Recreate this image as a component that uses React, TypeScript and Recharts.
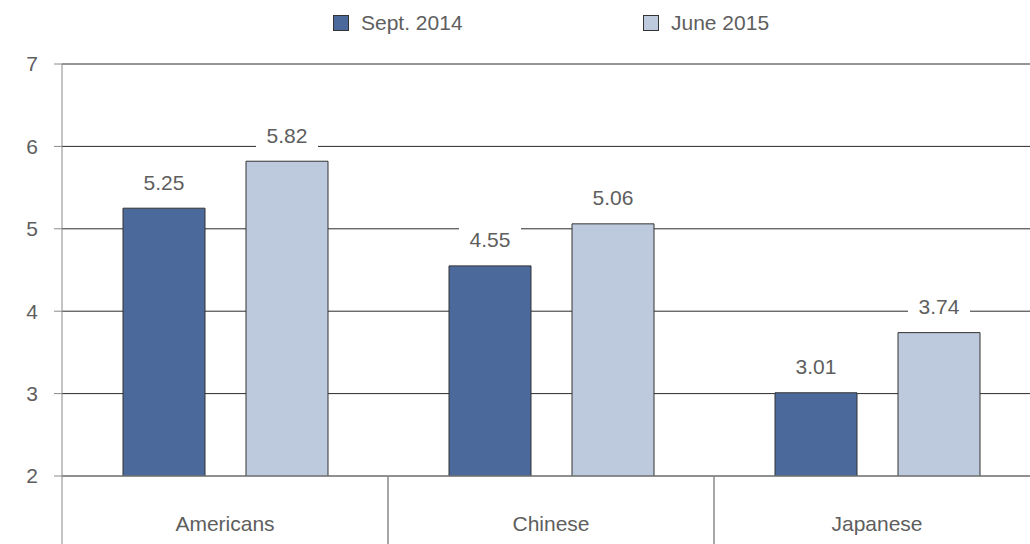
import { BarChart, Bar, XAxis, YAxis, CartesianGrid, LabelList } from "recharts";

const categories = ["Americans", "Chinese", "Japanese"];
const sept2014 = [5.25, 4.55, 3.01];
const june2015 = [5.82, 5.06, 3.74];
const seriesNames = ["Sept. 2014", "June 2015"];
const yTicks = [2, 3, 4, 5, 6, 7];

const colors = ["#4b6a9b", "#bdcadd"];
const textColor = "#5e5e5e";
const font = "'Liberation Sans', Arial, sans-serif";

const data = categories.map((name, i) => ({
  name,
  s1: sept2014[i],
  s2: june2015[i],
}));

const CHART_W = 1040;
const CHART_H = 544;
const Y_W = 62;
const BAND = (CHART_W - Y_W) / categories.length;

function ValueLabel(props: any) {
  const { x, y, width, value } = props;
  const cx = x + width / 2;
  const cy = y - 26;
  return (
    <g>
      <rect x={cx - 31} y={cy - 14} width={62} height={28} fill="#fff" />
      <text
        x={cx}
        y={cy}
        textAnchor="middle"
        dominantBaseline="central"
        fontSize={21}
        fontFamily={font}
        fill={textColor}
      >
        {Number(value).toFixed(2)}
      </text>
    </g>
  );
}

// tick y arrives shifted by the default tick size + margin (8px)
function CategoryTick(props: any) {
  const { x, y, payload } = props;
  const top = y - 8;
  return (
    <g>
      <line x1={x - BAND / 2} y1={top} x2={x - BAND / 2} y2={CHART_H} stroke="#8a8a8a" />
      <line x1={x + BAND / 2} y1={top} x2={x + BAND / 2} y2={CHART_H} stroke="#8a8a8a" />
      <text
        x={x}
        y={top + 47}
        textAnchor="middle"
        dominantBaseline="central"
        fontSize={21}
        fontFamily={font}
        fill={textColor}
      >
        {payload.value}
      </text>
    </g>
  );
}

export default function App() {
  return (
    <div
      style={{
        position: "absolute",
        left: 0,
        top: 0,
        width: 1030,
        height: 544,
        overflow: "hidden",
        background: "#fff",
        fontFamily: font,
      }}
    >
      <div style={{ position: "absolute", top: 0, left: 0, width: 1030, height: 40 }}>
        {seriesNames.map((s, i) => (
          <div
            key={s}
            style={{
              position: "absolute",
              left: i === 0 ? 333 : 643,
              top: 11,
              display: "flex",
              alignItems: "center",
              color: textColor,
              fontSize: 21,
            }}
          >
            <span
              style={{
                display: "inline-block",
                width: 14,
                height: 14,
                background: colors[i],
                border: "1px solid #333",
                marginRight: 12,
              }}
            />
            {s}
          </div>
        ))}
      </div>
      <BarChart
        width={CHART_W}
        height={CHART_H}
        data={data}
        margin={{ top: 64, right: 0, bottom: 0, left: 0 }}
        barSize={82}
        barGap={41}
      >
        <CartesianGrid horizontal vertical={false} stroke="#2a2a2a" strokeOpacity={1} />
        <XAxis
          dataKey="name"
          height={68}
          axisLine={{ stroke: "#8a8a8a" }}
          tickLine={false}
          tick={<CategoryTick />}
          interval={0}
        />
        <YAxis
          domain={[2, 7]}
          ticks={yTicks}
          width={Y_W}
          axisLine={{ stroke: "#8a8a8a" }}
          tickLine={{ stroke: "#8a8a8a" }}
          tickSize={8}
          tickMargin={16}
          allowDataOverflow
          tick={{ fontSize: 21, fill: textColor, fontFamily: font }}
        />
        <Bar dataKey="s1" name={seriesNames[0]} fill={colors[0]} stroke="#333" strokeWidth={1} isAnimationActive={false}>
          <LabelList dataKey="s1" content={<ValueLabel />} />
        </Bar>
        <Bar dataKey="s2" name={seriesNames[1]} fill={colors[1]} stroke="#333" strokeWidth={1} isAnimationActive={false}>
          <LabelList dataKey="s2" content={<ValueLabel />} />
        </Bar>
      </BarChart>
    </div>
  );
}
